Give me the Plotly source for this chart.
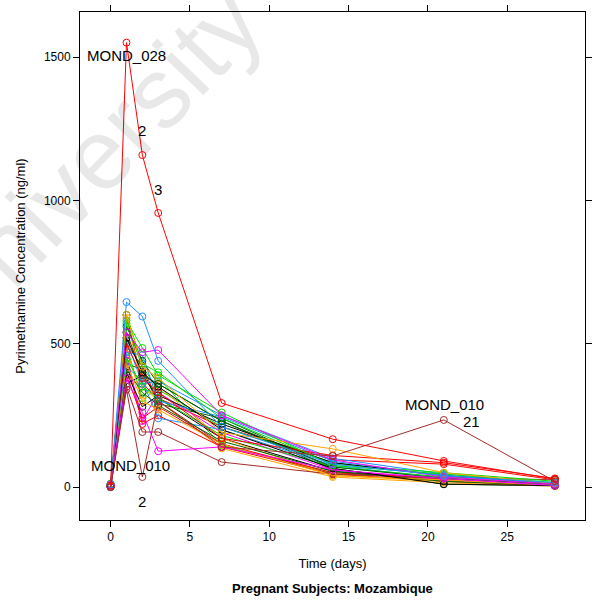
import plotly.graph_objects as go

times = [0, 1, 2, 3, 7, 14, 21, 28]

subjects = ["MOND_028", "MOND_010", "MOND_003", "MOND_004", "MOND_005", "MOND_006",
            "MOND_007", "MOND_008", "MOND_009", "MOND_011", "MOND_012", "MOND_013",
            "MOND_014", "MOND_015", "MOND_016", "MOND_017", "MOND_018", "MOND_019",
            "MOND_020", "MOND_021", "MOND_022", "MOND_023", "MOND_024", "MOND_025",
            "MOND_026", "MOND_027", "MOND_029", "MOND_030", "MOND_031", "MOND_032",
            "MOND_033"]

conc = [
    [5, 1550, 1158, 956, 293, 167, 91, 28],
    [0, 340, 35, 300, 140, 108, 234, 20],
    [8, 645, 595, 440, 210, 80, 40, 15],
    [10, 540, 470, 478, 250, 95, 35, 10],
    [5, 380, 260, 125, 140, 60, 30, 5],
    [3, 600, 420, 380, 190, 133, 50, 12],
    [12, 580, 485, 390, 260, 75, 45, 15],
    [4, 560, 440, 360, 230, 70, 30, 10],
    [2, 520, 400, 350, 200, 65, 10, 5],
    [6, 500, 380, 330, 170, 110, 85, 30],
    [0, 470, 460, 300, 245, 90, 40, 10],
    [7, 450, 350, 310, 180, 70, 35, 8],
    [3, 430, 300, 270, 150, 40, 25, 5],
    [0, 350, 192, 192, 87, 45, 30, 10],
    [5, 410, 330, 285, 160, 55, 20, 5],
    [2, 400, 280, 320, 220, 85, 40, 12],
    [4, 390, 240, 280, 150, 50, 30, 8],
    [9, 420, 370, 240, 200, 75, 30, 10],
    [6, 600, 430, 400, 240, 80, 50, 20],
    [1, 460, 230, 330, 190, 60, 25, 6],
    [3, 480, 300, 350, 170, 40, 20, 5],
    [2, 500, 420, 300, 150, 45, 35, 25],
    [8, 540, 390, 360, 230, 60, 25, 8],
    [0, 360, 390, 310, 170, 55, 20, 10],
    [4, 440, 220, 250, 140, 45, 20, 5],
    [6, 510, 360, 370, 250, 100, 45, 15],
    [10, 570, 420, 340, 210, 85, 40, 12],
    [3, 590, 350, 300, 135, 35, 15, 3],
    [5, 600, 360, 310, 210, 95, 80, 25],
    [7, 490, 310, 380, 145, 50, 30, 10],
    [2, 430, 410, 290, 240, 65, 10, 4],
]

colors = ["red", "brown", "#1E90FF", "magenta", "magenta", "orange", "#00E000",
          "darkgreen", "black", "red", "#1E90FF", "#00E000", "orange", "brown",
          "darkgreen", "black", "red", "#1E90FF", "#00E000", "magenta", "orange",
          "brown", "darkgreen", "black", "red", "#1E90FF", "#00E000", "orange",
          "red", "#00E000", "darkgreen"]

# outlier labels: (subject, time index, text, xshift, yshift)
labels = [
    ("MOND_028", 1, "MOND_028", 0, -13),
    ("MOND_028", 2, "2", 0, 25),
    ("MOND_028", 3, "3", 0, 23),
    ("MOND_010", 2, "MOND_010", -12, 12),
    ("MOND_010", 2, "2", 0, -24),
    ("MOND_010", 6, "MOND_010", 1, 15),
    ("MOND_010", 6, "21", 28, -2),
]

fig = go.Figure()
order = list(range(len(subjects)))[::-1]
for i in order:
    fig.add_trace(go.Scatter(
        x=times, y=conc[i], mode="lines+markers", name=subjects[i],
        line=dict(color=colors[i], width=1),
        marker=dict(symbol="circle-open", size=7, color=colors[i], line=dict(width=1)),
        showlegend=False))

for subj, ti, txt, xs, ys in labels:
    k = subjects.index(subj)
    fig.add_annotation(x=times[ti], y=conc[k][ti], text=txt, showarrow=False,
                       xanchor="center", yanchor="middle",
                       xshift=xs, yshift=ys, font=dict(size=15, color="black",
                       family="Liberation Sans, Arial"))

# watermark
fig.add_annotation(xref="paper", yref="paper", x=0.02, y=0.705, text="University",
                   showarrow=False, textangle=-46, xanchor="center", yanchor="middle",
                   font=dict(size=100, color="rgba(0,0,0,0.09)", family="Liberation Sans, Arial"))

fig.add_annotation(xref="paper", yref="paper", x=0.5, y=-0.135, yanchor="middle",
                   text="<b>Pregnant Subjects: Mozambique</b>", showarrow=False,
                   font=dict(size=13, color="black", family="Liberation Sans, Arial"))

axis_common = dict(showline=True, linecolor="black", linewidth=1, mirror="ticks",
                   ticks="outside", ticklen=6, tickcolor="black", showgrid=False,
                   zeroline=False, tickfont=dict(size=12, color="black"))

fig.update_layout(
    width=594, height=600,
    margin=dict(l=80, r=2, t=12, b=80),
    paper_bgcolor="white", plot_bgcolor="white",
    font=dict(family="Liberation Sans, Arial", color="black"),
    xaxis=dict(range=[-1.93, 29.9], tickvals=[0, 5, 10, 15, 20, 25],
               title=dict(text="Time (days)", font=dict(size=13), standoff=15),
               **axis_common),
    yaxis=dict(range=[-115, 1657], tickvals=[0, 500, 1000, 1500],
               title=dict(text="Pyrimethamine Concentration (ng/ml)", font=dict(size=13), standoff=15),
               **axis_common),
)

fig.write_html("out.html")
